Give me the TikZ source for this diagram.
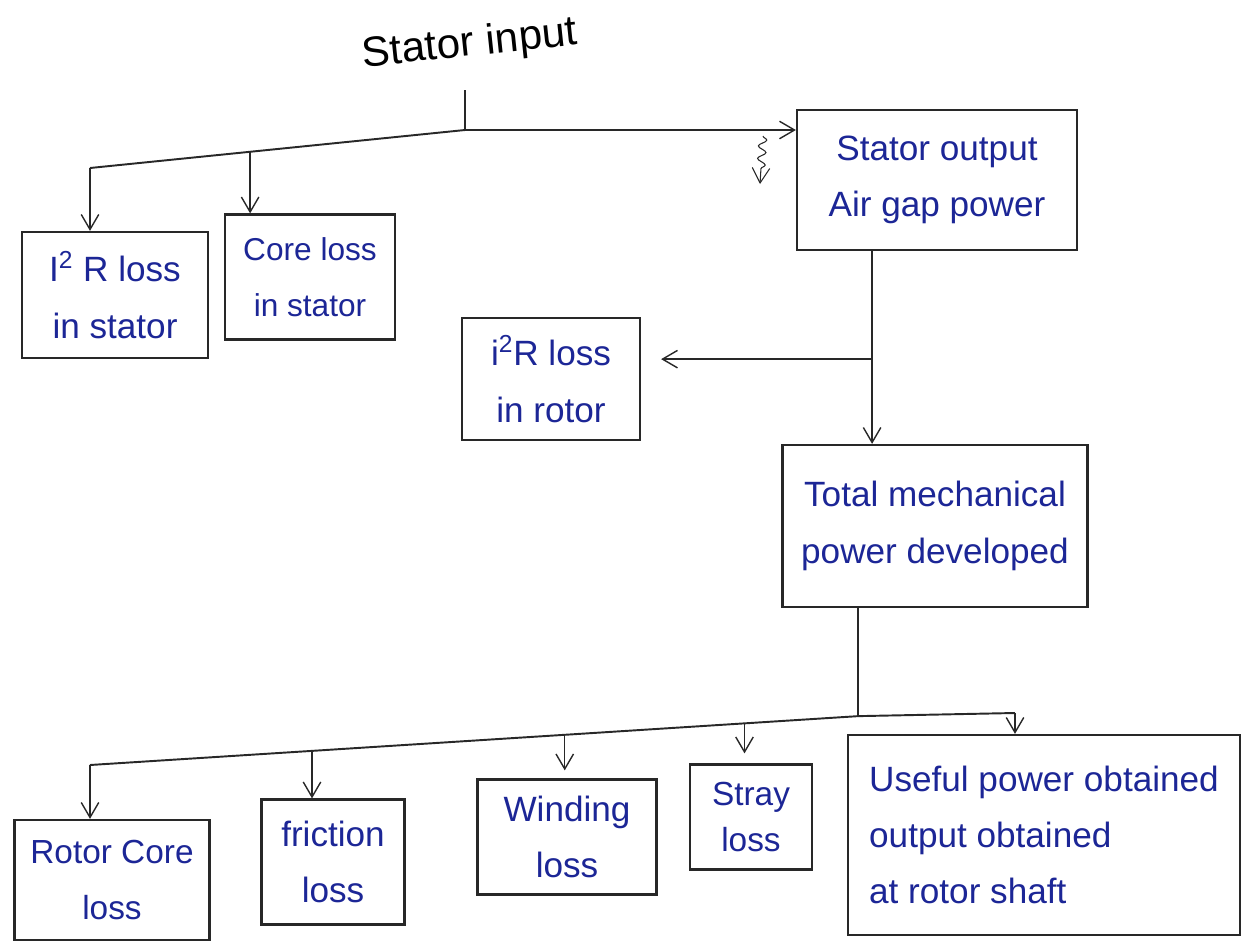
\documentclass[tikz,border=0pt]{standalone}
\usepackage{fontspec}
\setmainfont{Liberation Sans}
\usetikzlibrary{arrows.meta, positioning, calc, decorations.pathmorphing}
\definecolor{inkblue}{RGB}{28,38,150}
\definecolor{pencil}{RGB}{40,40,40}

\begin{document}
\begin{tikzpicture}[
  x=0.02cm, y=-0.02cm,
  block/.style = {draw=pencil, line width=1.3pt, align=center, text=inkblue,
                  font=\fontsize{20}{32}\selectfont, inner sep=2pt},
  arrow/.style = {draw=pencil, line width=0.8pt, -{Straight Barb[length=3mm, width=3.5mm]}},
  bus/.style   = {draw=pencil, line width=1.1pt}
]
  \useasboundingbox (0,0) rectangle (1245,944);

  % Stator input
  \node[font=\fontsize{24}{28}\selectfont, rotate=6] (input) at (470,45) {Stator input};
  \coordinate (stem) at (465,90);
  \coordinate (j1) at (465,130);
  \coordinate (b1) at (90,168);

  % stator losses
  \node[block, minimum width=3.72cm, minimum height=2.52cm] (statorcu) at (115,295)
    {I\textsuperscript{2} R loss\\in stator};
  \node[block, minimum width=3.4cm, minimum height=2.5cm,
        font=\fontsize{18}{32}\selectfont] (core) at (310,277)
    {Core loss\\in stator};

  % Air gap power
  \node[block, minimum width=5.6cm, minimum height=2.8cm] (airgap) at (937,180)
    {Stator output\\Air gap power};

  % Rotor copper loss
  \node[block, minimum width=3.56cm, minimum height=2.44cm] (rotor) at (551,379)
    {i\textsuperscript{2}R loss\\in rotor};

  % Mechanical power
  \node[block, minimum width=6.1cm, minimum height=3.24cm] (mech) at (935,526)
    {Total mechanical\\power developed};

  % rotor side losses and output
  \node[block, minimum width=3.9cm, minimum height=2.4cm,
        font=\fontsize{19}{32}\selectfont] (rcore) at (112,880)
    {Rotor Core\\loss};
  \node[block, minimum width=2.86cm, minimum height=2.5cm] (fric) at (333,862)
    {friction\\loss};
  \node[block, minimum width=3.58cm, minimum height=2.3cm] (wind) at (567,837)
    {Winding\\loss};
  \node[block, minimum width=2.44cm, minimum height=2.1cm,
        font=\fontsize{19}{26}\selectfont] (stray) at (751,817)
    {Stray\\loss};
  \node[block, minimum width=7.84cm, minimum height=4cm, align=left] (useful) at (1044,835)
    {Useful power obtained\\output obtained\\at rotor shaft};

  % input -> split
  \draw[bus] (stem) -- (j1);
  \draw[arrow] (j1) -- (j1 -| airgap.west);
  \draw[bus] (j1) -- (b1);
  \draw[arrow] (b1) -- (b1 |- statorcu.north);
  \coordinate (b2) at ($(b1)!0.427!(j1)$);
  \draw[arrow] (b2) -- (b2 |- core.north);

  % scribble beside the arrow
  \coordinate (sqtop) at (763,136);
  \coordinate (sqbot) at (760,184);
  \draw[arrow, line width=0.6pt, decorate,
        decoration={snake, amplitude=0.8mm, segment length=2.5mm, post length=2mm}]
    (sqtop) -- (sqbot);

  % air gap -> mechanical, rotor loss branch
  \coordinate (a1) at ($(airgap.south west)!0.27!(airgap.south east)$);
  \draw[arrow] (a1) -- (a1 |- mech.north);
  \coordinate (a2) at ($(a1)+(0,108)$);
  \draw[arrow, shorten >=4mm] (a2) -- (a2 -| rotor.east);

  % mechanical -> rotor losses and output
  \coordinate (m1) at ($(mech.south west)!0.25!(mech.south east)$);
  \coordinate (m2) at ($(m1)+(0,108)$);
  \coordinate (l0) at (90,765);
  \coordinate (l5) at (1015,713);
  \draw[bus] (m1) -- (m2);
  \draw[bus] (l0) -- (m2) -- (l5);
  \draw[arrow] (l0) -- (l0 |- rcore.north);
  \coordinate (l1) at ($(l0)!0.289!(m2)$);
  \draw[arrow] (l1) -- (l1 |- fric.north);
  \coordinate (l2) at ($(l0)!0.618!(m2)$);
  \draw[arrow] (l2) -- ($(l2 |- wind.north)+(0,-8)$);
  \coordinate (l3) at ($(l0)!0.852!(m2)$);
  \draw[arrow] (l3) -- ($(l3 |- stray.north)+(0,-10)$);
  \draw[arrow] (l5) -- (l5 |- useful.north);

\end{tikzpicture}
\end{document}
